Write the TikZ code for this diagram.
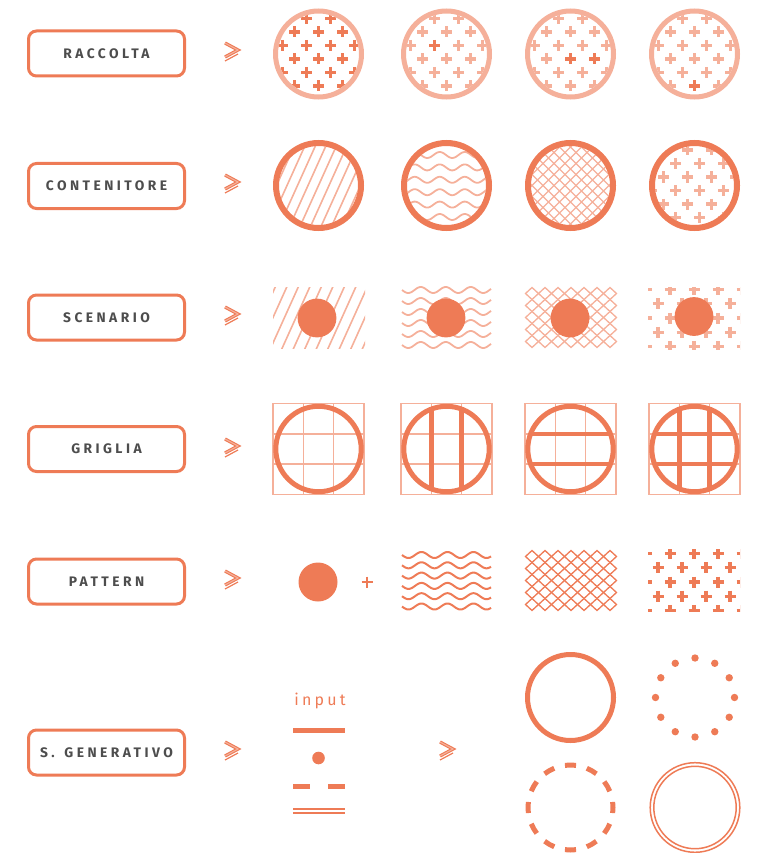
\documentclass[tikz,border=0pt]{standalone}
\usepackage{fontspec}
\setmainfont{Fira Sans}
\newfontfamily\labfont[LetterSpace=25]{Fira Sans}
\newfontfamily\infont[LetterSpace=20]{Fira Sans}
\definecolor{org}{HTML}{EE7B56}
\definecolor{lorg}{HTML}{F5B09A}
\definecolor{txt}{HTML}{4D4D4D}
\tikzset{
  labelbox/.style={draw=org, line width=3pt, rounded corners=8pt, minimum width=156pt,
    minimum height=45pt, inner sep=0pt, text=txt,
    font=\labfont\bfseries\fontsize{13.8pt}{14pt}\selectfont},
}
\newcommand\plusat[3]{\draw[#3,line width=3.2pt] ({#1-5.5},{#2}) -- ({#1+5.5},{#2}) ({#1},{#2-5.5}) -- ({#1},{#2+5.5});}
\newcommand\pluspat[6]{%
  \foreach \j in {-5,...,5}{\foreach \m in {-3,...,3}{%
    \pgfmathsetmacro\px{#1+#3+24*\m+12*abs(mod(\j,2))}%
    \pgfmathsetmacro\py{#2+#4+#5*\j}%
    \plusat{\px}{\py}{#6}%
  }}}
\newcommand\hatchpat[4]{%
  \foreach \k in {-12,...,12}{\draw[#4,line width=1.6pt] ({#1+#3*\k-28},{#2+62}) -- ({#1+#3*\k+28},{#2-62});}}
\newcommand\wavepat[8]{%
  \foreach \j in {1,...,#4}{\draw[#8] plot[domain=#1:#2,samples=90,smooth] (\x,{#3+(\j-1)*#5+#6*sin((\x-#1)/#7*360)});}}
\newcommand\diapat[7]{% x0 y0 nx ny sx sy style
  \foreach \i in {1,...,#3}{\foreach \j in {1,...,#4}{%
    \pgfmathsetmacro\dcx{#1+(\i-0.5)*#5}\pgfmathsetmacro\dcy{#2+(\j-0.5)*#6}%
    \draw[#7] ({\dcx-#5/2},{\dcy}) -- ({\dcx},{\dcy-#6/2}) -- ({\dcx+#5/2},{\dcy}) -- ({\dcx},{\dcy+#6/2}) -- cycle;}}}
\newcommand\chev[2]{%
  \draw[org,line width=1.1pt,double=lorg,double distance=1.1pt,line join=miter] ({#1-7},{#2-10}) -- ({#1+6},{#2-3}) -- ({#1-7},{#2+4});
  \draw[org,line width=1.2pt] ({#1+6},{#2+1}) -- ({#1-7},{#2+8});}
\newcommand\gridcell[4]{% cx cy vertical horizontal
  \draw[lorg,line width=1.5pt] ({#1-45.5},{#2-45.5}) rectangle ({#1+45.5},{#2+45.5});
  \draw[lorg,line width=1.5pt] ({#1-15.2},{#2-45.5}) -- ({#1-15.2},{#2+45.5})
    ({#1+15.2},{#2-45.5}) -- ({#1+15.2},{#2+45.5})
    ({#1-45.5},{#2-15.2}) -- ({#1+45.5},{#2-15.2})
    ({#1-45.5},{#2+15.2}) -- ({#1+45.5},{#2+15.2});
  \begin{scope}
    \clip (#1,#2) circle (43);
    \ifnum#3=1 \draw[org,line width=4.5pt] ({#1-15.2},{#2-50}) -- ({#1-15.2},{#2+50}) ({#1+15.2},{#2-50}) -- ({#1+15.2},{#2+50});\fi
    \ifnum#4=1 \draw[org,line width=4.5pt] ({#1-50},{#2-15.2}) -- ({#1+50},{#2-15.2}) ({#1-50},{#2+15.2}) -- ({#1+50},{#2+15.2});\fi
  \end{scope}
  \draw[org,line width=5pt] (#1,#2) circle (42.7);}
\begin{document}
\begin{tikzpicture}[x=1pt,y=-1pt]
\useasboundingbox (0,0) rectangle (759,853);
% labels
\node[labelbox] (lab1) at (106.5,53.5) {RACCOLTA};
\node[labelbox] (lab2) at (106.5,186) {CONTENITORE};
\node[labelbox] (lab3) at (106.5,317.5) {SCENARIO};
\node[labelbox] (lab4) at (106.5,449) {GRIGLIA};
\node[labelbox] (lab5) at (106.5,581.5) {PATTERN};
\node[labelbox] (lab6) at (106.5,752.5) {S.\hspace{3pt} GENERATIVO};
\chev{232}{53}
\chev{232}{185}
\chev{232}{317}
\chev{232}{449}
\chev{232}{581}
\chev{232}{752}
\chev{447}{752}
% row 1
\begin{scope}\clip (318.5,54) circle (40.5); \pluspat{318.5}{54}{0}{5}{13.5}{org}\end{scope}
\draw[lorg,line width=5pt] (318.5,54) circle (43);
\begin{scope}\clip (446.5,54) circle (40.5); \pluspat{446.5}{54}{0}{5}{13.5}{lorg}\plusat{434.5}{45.5}{org}\end{scope}
\draw[lorg,line width=5pt] (446.5,54) circle (43);
\begin{scope}\clip (570.5,54) circle (40.5); \pluspat{570.5}{54}{0}{5}{13.5}{lorg}\plusat{570.5}{59}{org}\plusat{594.5}{59}{org}\end{scope}
\draw[lorg,line width=5pt] (570.5,54) circle (43);
\begin{scope}\clip (694.5,54) circle (40.5); \pluspat{694.5}{54}{0}{5}{13.5}{lorg}\plusat{694.5}{86}{org}\end{scope}
\draw[lorg,line width=5pt] (694.5,54) circle (43);
% row 2
\begin{scope}\clip (318.5,185.5) circle (39.5); \hatchpat{318.5}{185.5}{10.5}{lorg}\end{scope}
\draw[org,line width=6pt] (318.5,185.5) circle (42.5);
\begin{scope}\clip (446.5,185.5) circle (39.5); \wavepat{396}{497}{142.6}{8}{12.4}{3}{25}{lorg,line width=1.8pt}\end{scope}
\draw[org,line width=6pt] (446.5,185.5) circle (42.5);
\begin{scope}\clip (570.5,185.5) circle (39.5); \diapat{521}{136}{9}{9}{11}{11}{lorg,line width=1.3pt}\end{scope}
\draw[org,line width=6pt] (570.5,185.5) circle (42.5);
\begin{scope}\clip (694.5,185.5) circle (39.5); \pluspat{694.5}{185.5}{5}{5}{13.5}{lorg}\end{scope}
\draw[org,line width=6pt] (694.5,185.5) circle (42.5);
% row 3
\begin{scope}\clip (273,287) rectangle (365,348.5); \hatchpat{319}{317.5}{11.5}{lorg}\end{scope}
\fill[org] (317,318) circle (19.4);
\wavepat{402}{491}{290}{6}{11}{3}{25}{lorg,line width=1.8pt}
\fill[org] (446,318) circle (19.4);
\diapat{525.5}{287.5}{7}{5}{13}{12}{lorg,line width=1.3pt}
\fill[org] (570,318) circle (19.4);
\begin{scope}\clip (648,287) rectangle (740,349); \pluspat{694}{318}{0}{0}{14.2}{lorg}\end{scope}
\fill[org] (694,316.5) circle (19.4);
% row 4
\gridcell{318.5}{449}{0}{0}
\gridcell{446.5}{449}{1}{0}
\gridcell{570.5}{449}{0}{1}
\gridcell{694.5}{449}{1}{1}
% row 5
\fill[org] (318,582) circle (19.5);
\draw[org,line width=2.8pt] (361.5,582) -- (372.5,582) (367,576.5) -- (367,587.5);
\wavepat{402}{491}{555}{6}{10.3}{3}{26}{org,line width=2pt}
\diapat{525.5}{550.5}{7}{5}{13}{12}{org,line width=1.3pt}
\begin{scope}\clip (648,549) rectangle (740,611); \pluspat{694}{582}{0}{0}{14.2}{org}\end{scope}
% row 6
\node[text=org,font=\infont\fontsize{16pt}{16pt}\selectfont,inner sep=0pt,anchor=base] (inp) at (320,705) {input};
\draw[org,line width=5pt] (293,730) -- (345,730);
\fill[org] (318.5,758) circle (6.3);
\draw[org,line width=5pt] (293,786) -- (310,786) (328,786) -- (345,786);
\draw[org,line width=1.4pt] (293,809) -- (345,809) (293,813) -- (345,813);
\draw[org,line width=5pt] (570.5,697.5) circle (43);
\foreach \a in {0,30,...,330}{\fill[org] ({695+39.5*cos(\a)},{697.5+39.5*sin(\a)}) circle (3.7);}
\foreach \a in {0,30,...,330}{\draw[org,line width=5pt] ({570.5+42.5*cos(\a+82.5)},{807.5-42.5*sin(\a+82.5)}) arc[start angle={-(\a+82.5)}, end angle={-(\a+97.5)}, radius=42.5];}
\draw[org,line width=1.5pt] (695,807.5) circle (44.8) (695,807.5) circle (41.2);
\end{tikzpicture}
\end{document}
